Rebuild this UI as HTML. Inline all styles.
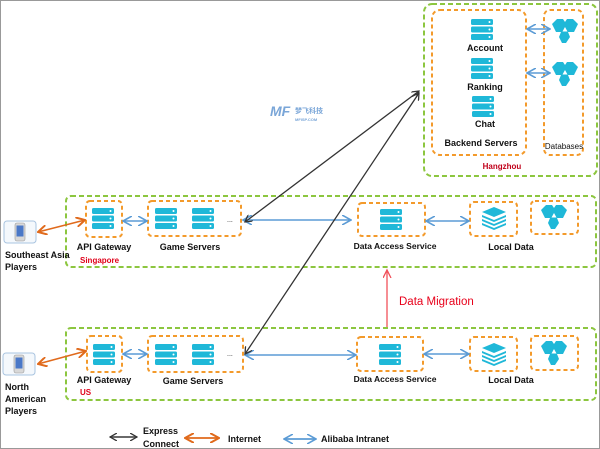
<!DOCTYPE html>
<html><head><meta charset="utf-8"><style>
html,body{margin:0;padding:0;background:#fff;}
svg{display:block;}
text{font-family:"Liberation Sans","Noto Sans CJK SC",sans-serif;font-weight:bold;font-size:9px;fill:#111;}
</style></head><body>
<svg width="600" height="449" viewBox="0 0 600 449" xmlns="http://www.w3.org/2000/svg">
<defs>
<g id="srv">
 <rect x="0" y="0" width="22" height="6" rx="1.5" fill="#1fb8d8"/>
 <rect x="0" y="7.5" width="22" height="6" rx="1.5" fill="#1fb8d8"/>
 <rect x="0" y="15" width="22" height="6" rx="1.5" fill="#1fb8d8"/>
 <circle cx="18.5" cy="3" r="1" fill="#fff"/><circle cx="18.5" cy="10.5" r="1" fill="#fff"/><circle cx="18.5" cy="18" r="1" fill="#fff"/>
</g>
<g id="db">
 <polygon points="0,5 5,0 11,0 13,3 15,0 21,0 26,5 22,13 16,13 18,18 14,24 10,24 7,18 9,13 4,13" fill="#1fb8d8"/>
 <polygon points="13,8 15.5,12.5 10.5,12.5" fill="#fff"/>
</g>
<g id="stack">
 <polygon points="12,0 24,5 12,10 0,5" fill="#1fb8d8"/>
 <polygon points="0,8 12,13 24,8 24,10 12,15 0,10" fill="#1fb8d8"/>
 <polygon points="0,12 12,17 24,12 24,14 12,19 0,14" fill="#1fb8d8"/>
 <polygon points="0,16 12,21 24,16 24,18 12,23 0,18" fill="#1fb8d8"/>
</g>
<g id="phone">
 <rect x="0" y="0" width="32" height="22" rx="3" fill="#f4f8fc" stroke="#a9c4e0" stroke-width="1"/>
 <rect x="11" y="2" width="10" height="18" rx="2" fill="#d8d8d8" stroke="#999" stroke-width="0.6"/>
 <rect x="12.5" y="4.5" width="7" height="11" fill="#4a78c8"/>
</g>
<marker id="ak" markerWidth="8" markerHeight="8" refX="7" refY="4" orient="auto-start-reverse" markerUnits="userSpaceOnUse"><path d="M0,0 L7,4 L0,8" fill="none" stroke="#333" stroke-width="1.3"/></marker>
<marker id="ao" markerWidth="10" markerHeight="10" refX="9" refY="5" orient="auto-start-reverse" markerUnits="userSpaceOnUse"><path d="M0,0 L9,5 L0,10" fill="none" stroke="#e06a1c" stroke-width="2"/></marker>
<marker id="ab" markerWidth="10" markerHeight="10" refX="9" refY="5" orient="auto-start-reverse" markerUnits="userSpaceOnUse"><path d="M0,0 L9,5 L0,10" fill="none" stroke="#5b9bd5" stroke-width="1.6"/></marker>
<marker id="ar" markerWidth="10" markerHeight="10" refX="8" refY="4" orient="auto" markerUnits="userSpaceOnUse"><path d="M0,0 L8,4 L0,8" fill="none" stroke="#f0505a" stroke-width="1.3"/></marker>
</defs>
<rect x="0.5" y="0.5" width="599" height="448" fill="#fff" stroke="#999"/>

<g fill="none" stroke="#8cc63f" stroke-width="2" stroke-dasharray="5,3">
 <rect x="424" y="4" width="173" height="172" rx="8"/>
 <rect x="66" y="196" width="530" height="71" rx="5"/>
 <rect x="66" y="328" width="530" height="72" rx="5"/>
</g>
<g fill="none" stroke="#f39a2b" stroke-width="2" stroke-dasharray="4,3">
 <rect x="432" y="10" width="94" height="145" rx="8"/>
 <rect x="544" y="10" width="39" height="145" rx="6"/>
 <rect x="86" y="201" width="36" height="36" rx="4"/>
 <rect x="148" y="201" width="93" height="35" rx="4"/>
 <rect x="358" y="203" width="67" height="33" rx="4"/>
 <rect x="470" y="202" width="47" height="34" rx="4"/>
 <rect x="531" y="201" width="47" height="33" rx="4"/>
 <rect x="87" y="336" width="35" height="36" rx="4"/>
 <rect x="148" y="336" width="95" height="36" rx="4"/>
 <rect x="357" y="337" width="66" height="34" rx="4"/>
 <rect x="470" y="337" width="47" height="34" rx="4"/>
 <rect x="531" y="336" width="47" height="34" rx="4"/>
</g>

<!-- Hangzhou -->
<use href="#srv" x="471" y="19"/><use href="#srv" x="471" y="58"/><use href="#srv" x="472" y="96"/>
<text x="485" y="51" text-anchor="middle">Account</text>
<text x="485" y="90" text-anchor="middle">Ranking</text>
<text x="485" y="127" text-anchor="middle">Chat</text>
<text x="481" y="146" text-anchor="middle">Backend Servers</text>
<text x="564" y="149" text-anchor="middle" style="font-weight:normal;font-size:8px">Databases</text>
<text x="502" y="169" text-anchor="middle" style="fill:#c0001a;font-size:8px">Hangzhou</text>
<use href="#db" x="552" y="19"/><use href="#db" x="552" y="62"/>
<line x1="527" y1="29" x2="550" y2="29" stroke="#5b9bd5" stroke-width="1.6" marker-start="url(#ab)" marker-end="url(#ab)"/>
<line x1="527" y1="73" x2="550" y2="73" stroke="#5b9bd5" stroke-width="1.6" marker-start="url(#ab)" marker-end="url(#ab)"/>

<!-- watermark -->
<text x="270" y="116" style="fill:#7aa6d8;font-size:14px;font-style:italic">MF</text>
<text x="295" y="113" style="fill:#7aa6d8;font-size:7px">梦飞科技</text>
<text x="295" y="121" style="fill:#7aa6d8;font-size:4px">MFISP.COM</text>

<!-- Singapore -->
<use href="#srv" x="92" y="208"/>
<use href="#srv" x="155" y="208"/><use href="#srv" x="192" y="208"/>
<text x="227" y="222" style="font-size:7px;font-weight:normal">...</text>
<use href="#srv" x="380" y="209"/>
<use href="#stack" x="482" y="207"/>
<use href="#db" x="541" y="205"/>
<text x="104" y="250" text-anchor="middle">API Gateway</text>
<text x="190" y="250" text-anchor="middle">Game Servers</text>
<text x="80" y="263" style="fill:#e0001a;font-size:8px">Singapore</text>
<text x="395" y="249" text-anchor="middle" style="font-size:8.5px">Data Access Service</text>
<text x="511" y="250" text-anchor="middle">Local Data</text>
<use href="#phone" x="4" y="221"/>
<text x="5" y="258">Southeast Asia</text>
<text x="5" y="270">Players</text>

<!-- US -->
<use href="#srv" x="93" y="344"/>
<use href="#srv" x="155" y="344"/><use href="#srv" x="192" y="344"/>
<text x="227" y="356" style="font-size:7px;font-weight:normal">...</text>
<use href="#srv" x="379" y="344"/>
<use href="#stack" x="482" y="343"/>
<use href="#db" x="541" y="341"/>
<text x="104" y="383" text-anchor="middle">API Gateway</text>
<text x="193" y="384" text-anchor="middle">Game Servers</text>
<text x="80" y="395" style="fill:#e0001a;font-size:8px">US</text>
<text x="395" y="382" text-anchor="middle" style="font-size:8.5px">Data Access Service</text>
<text x="511" y="383" text-anchor="middle">Local Data</text>
<use href="#phone" x="3" y="353"/>
<text x="5" y="390">North</text>
<text x="5" y="402">American</text>
<text x="5" y="414">Players</text>

<!-- connectors -->
<g stroke-width="1.6" fill="none">
 <line x1="38" y1="232" x2="85" y2="220" stroke="#e06a1c" marker-start="url(#ao)" marker-end="url(#ao)"/>
 <line x1="38" y1="364" x2="86" y2="351" stroke="#e06a1c" marker-start="url(#ao)" marker-end="url(#ao)"/>
 <line x1="123" y1="221" x2="147" y2="221" stroke="#5b9bd5" marker-start="url(#ab)" marker-end="url(#ab)"/>
 <line x1="123" y1="354" x2="147" y2="354" stroke="#5b9bd5" marker-start="url(#ab)" marker-end="url(#ab)"/>
 <line x1="243" y1="220" x2="351" y2="220" stroke="#5b9bd5" marker-start="url(#ab)" marker-end="url(#ab)"/>
 <line x1="245" y1="355" x2="356" y2="355" stroke="#5b9bd5" marker-start="url(#ab)" marker-end="url(#ab)"/>
 <line x1="426" y1="221" x2="469" y2="221" stroke="#5b9bd5" marker-start="url(#ab)" marker-end="url(#ab)"/>
 <line x1="424" y1="354" x2="469" y2="354" stroke="#5b9bd5" marker-start="url(#ab)" marker-end="url(#ab)"/>
 <line x1="245" y1="222" x2="419" y2="91" stroke="#333" stroke-width="1.3" marker-start="url(#ak)" marker-end="url(#ak)"/>
 <line x1="245" y1="354" x2="419" y2="93" stroke="#333" stroke-width="1.3" marker-start="url(#ak)" marker-end="url(#ak)"/>
 <line x1="387" y1="327" x2="387" y2="270" stroke="#f0505a" stroke-width="1.3" marker-end="url(#ar)"/>
</g>
<text x="399" y="305" style="fill:#e8001a;font-weight:normal;font-size:11.5px">Data Migration</text>

<!-- legend -->
<g stroke-width="1.8" fill="none">
 <line x1="110" y1="437" x2="137" y2="437" stroke="#555" marker-start="url(#ak)" marker-end="url(#ak)"/>
 <line x1="185" y1="438" x2="219" y2="438" stroke="#e06a1c" marker-start="url(#ao)" marker-end="url(#ao)"/>
 <line x1="284" y1="439" x2="316" y2="439" stroke="#5b9bd5" marker-start="url(#ab)" marker-end="url(#ab)"/>
</g>
<text x="143" y="434">Express</text>
<text x="143" y="447">Connect</text>
<text x="228" y="442">Internet</text>
<text x="321" y="442">Alibaba Intranet</text>
</svg>
</body></html>
